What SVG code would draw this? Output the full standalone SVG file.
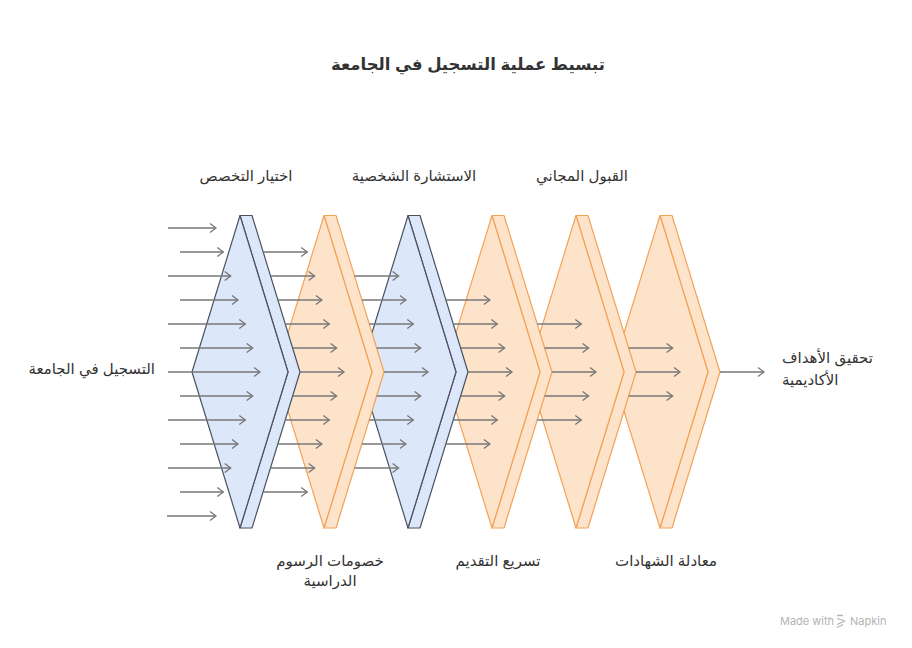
<svg xmlns="http://www.w3.org/2000/svg" width="912" height="648" viewBox="0 0 912 648">
<style>
.t{font-family:"Liberation Sans","DejaVu Sans",Arial,sans-serif;fill:#333;font-size:15px}
.title{font-size:16.5px;font-weight:bold;text-anchor:middle}
.c{text-anchor:middle}
.blue polygon{fill:#dce7fa;stroke:#4a525f;stroke-width:1.2;stroke-linejoin:round}
.orange polygon{fill:#fde3ca;stroke:#f3a358;stroke-width:1.2;stroke-linejoin:round}
#connectors path{fill:none;stroke:#777;stroke-width:1.3;marker-end:url(#ah)}
.wm{font-family:Inter,"Liberation Sans",sans-serif;font-size:11px;fill:#b3b3b3}
</style>
<defs>
<marker id="ah" markerUnits="userSpaceOnUse" markerWidth="12" markerHeight="12" viewBox="-8 -6 10 12" refX="0" refY="0" orient="auto">
<path d="M-6,-4.5 L0,0 L-6,4.5" fill="none" stroke="#777" stroke-width="1.3"/>
</marker>
</defs>
<rect width="912" height="648" fill="#fff"/>
<text class="t title" x="468" y="70">تبسيط عملية التسجيل في الجامعة</text>

<!-- shapes drawn last-first so earlier ones sit on top -->
<g id="step6" class="orange">
<polygon points="660,215.5 672,215.5 720,372 672,528 660,528 708,372"/>
<polygon points="612,372 660,215.5 708,372 660,528"/>
</g>
<g id="step5" class="orange">
<polygon points="576,215.5 588,215.5 636,372 588,528 576,528 624,372"/>
<polygon points="528,372 576,215.5 624,372 576,528"/>
</g>
<g id="step4" class="orange">
<polygon points="492,215.5 504,215.5 552,372 504,528 492,528 540,372"/>
<polygon points="444,372 492,215.5 540,372 492,528"/>
</g>
<g id="step3" class="blue">
<polygon points="408,215.5 420,215.5 468,372 420,528 408,528 456,372"/>
<polygon points="360,372 408,215.5 456,372 408,528"/>
</g>
<g id="step2" class="orange">
<polygon points="324,215.5 336,215.5 384,372 336,528 324,528 372,372"/>
<polygon points="276,372 324,215.5 372,372 324,528"/>
</g>
<g id="step1" class="blue">
<polygon points="240,215.5 252,215.5 300,372 252,528 240,528 288,372"/>
<polygon points="192,372 240,215.5 288,372 240,528"/>
</g>

<g id="connectors">
<path d="M168,228H216"/>
<path d="M180,252H223.3"/>
<path d="M168,276H230.7"/>
<path d="M180,300H238"/>
<path d="M168,324H245.3"/>
<path d="M180,348H252.7"/>
<path d="M168,372H260"/>
<path d="M180,396H252.7"/>
<path d="M168,420H245.3"/>
<path d="M180,444H238"/>
<path d="M168,468H230.7"/>
<path d="M180,492H223.3"/>
<path d="M167,516H216"/>

<path d="M263.2,252H307.2"/>
<path d="M270.6,276H314.6"/>
<path d="M277.9,300H321.9"/>
<path d="M285.3,324H329.3"/>
<path d="M292.6,348H336.6"/>
<path d="M300,372H344"/>
<path d="M292.6,396H336.6"/>
<path d="M285.3,420H329.3"/>
<path d="M277.9,444H321.9"/>
<path d="M270.6,468H314.6"/>
<path d="M263.2,492H307.2"/>

<path d="M354.6,276H398.6"/>
<path d="M361.9,300H405.9"/>
<path d="M369.3,324H413.3"/>
<path d="M376.6,348H420.6"/>
<path d="M384,372H428"/>
<path d="M376.6,396H420.6"/>
<path d="M369.3,420H413.3"/>
<path d="M361.9,444H405.9"/>
<path d="M354.6,468H398.6"/>

<path d="M445.9,300H489.9"/>
<path d="M453.3,324H497.3"/>
<path d="M460.6,348H504.6"/>
<path d="M468,372H512"/>
<path d="M460.6,396H504.6"/>
<path d="M453.3,420H497.3"/>
<path d="M445.9,444H489.9"/>

<path d="M537.3,324H581.3"/>
<path d="M544.6,348H588.6"/>
<path d="M552,372H596"/>
<path d="M544.6,396H588.6"/>
<path d="M537.3,420H581.3"/>

<path d="M628.6,348H672.6"/>
<path d="M636,372H680"/>
<path d="M628.6,396H672.6"/>

<path d="M720,372H764"/>
</g>

<g id="labels">
<text class="t c" x="246" y="181">اختيار التخصص</text>
<text class="t c" x="414" y="181">الاستشارة الشخصية</text>
<text class="t c" x="582" y="181">القبول المجاني</text>
<text class="t c" x="330" y="566">خصومات الرسوم</text>
<text class="t c" x="330" y="586">الدراسية</text>
<text class="t c" x="498" y="566">تسريع التقديم</text>
<text class="t c" x="666" y="566">معادلة الشهادات</text>
<text class="t" x="155" y="374" text-anchor="end">التسجيل في الجامعة</text>
<text class="t" x="782" y="363">تحقيق الأهداف</text>
<text class="t" x="782" y="385">الأكاديمية</text>
</g>

<g id="watermark">
<text class="wm" x="780" y="625">Made with</text>
<path d="M837,615.5h6M837,618.5l8,2.5M837,624.5l8,-3.5M837,627.5l6,-3" stroke="#b3b3b3" stroke-width="1.3" fill="none"/>
<text class="wm" x="850" y="625">Napkin</text>
</g>
</svg>
